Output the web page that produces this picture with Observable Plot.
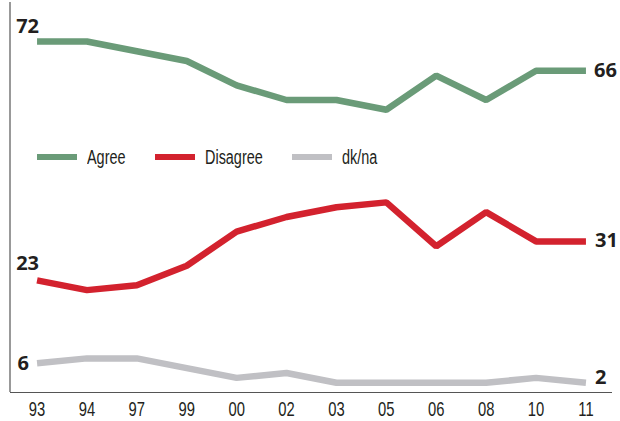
<!DOCTYPE html>
<html>
<head>
<meta charset="utf-8">
<script src="https://cdn.jsdelivr.net/npm/d3@7"></script>
<script src="https://cdn.jsdelivr.net/npm/@observablehq/plot@0.6"></script>
<style>
  html, body { margin: 0; padding: 0; background: #fff; }
  #wrap { position: relative; width: 620px; height: 421px; }
  #legend { position: absolute; left: 37px; top: 145px; height: 24px;
    font-family: 'Liberation Sans', Arial, sans-serif; font-size: 19.5px; color: #231f20; }
  #legend .item { position: absolute; top: 0; display: flex; align-items: center; height: 24px; white-space: nowrap; }
  #legend .item:nth-child(1) { left: 0px; }
  #legend .item:nth-child(2) { left: 118px; }
  #legend .item:nth-child(3) { left: 255px; }
  #legend .sw { width: 40px; height: 6px; margin-right: 10px; }
  #legend .lab { display: inline-block; transform: scaleX(0.74); transform-origin: left center; }
</style>
</head>
<body>
<div id="wrap"><div id="legend"></div></div>
<script>
const years = ["93","94","97","99","00","02","03","05","06","08","10","11"];
const agree = [72,72,70,68,63,60,60,58,65,60,66,66];
const disagree = [23,21,22,26,33,36,38,39,30,37,31,31];
const dkna = [6,7,7,5,3,4,2,2,2,2,3,2];
const seriesNames = ["Agree","Disagree","dk/na"];
const seriesColors = ["#6a9b78","#d3222e","#c0c0c4"];

const seriesValues = [agree, disagree, dkna];
const rows = seriesNames.flatMap((s, si) => years.map((yr, i) => ({series: s, year: yr, value: seriesValues[si][i], i})));
const first = s => rows.filter(d => d.series === s && d.i === 0);
const last = s => rows.filter(d => d.series === s && d.i === years.length - 1);

const numFont = "'Open Sans', sans-serif";
const ink = "#231f20";

const leftAxisLine = (index, scales, values, dimensions) => {
  const g = d3.create("svg:line")
    .attr("x1", dimensions.marginLeft).attr("x2", dimensions.marginLeft)
    .attr("y1", dimensions.marginTop).attr("y2", dimensions.height - dimensions.marginBottom)
    .attr("stroke", "#555").attr("stroke-width", 1.2);
  return g.node();
};

const numLabel = (data, anchor, dx, dy) => Plot.text(data, {
  x: "year", y: "value", text: d => String(d.value), textAnchor: anchor, dx, dy,
  fontSize: 20, fontWeight: 700, fontFamily: numFont, fill: ink
});

const chart = Plot.plot({
  width: 620,
  height: 421,
  marginLeft: 10,
  marginRight: 8,
  marginTop: 2,
  marginBottom: 29,
  style: {fontFamily: "'Liberation Sans', Arial, sans-serif", color: ink, background: "#fff"},
  x: {type: "point", domain: years, padding: 0.532, round: false, label: null},
  y: {domain: [0, 80], axis: null},
  color: {domain: seriesNames, range: seriesColors},
  marks: [
    Plot.axisX({tickSize: 0, tickPadding: 9, fontSize: 20, label: null}),
    Plot.ruleY([0], {stroke: "#555", strokeWidth: 1.2}),
    leftAxisLine,
    Plot.line(rows, {x: "year", y: "value", z: "series", stroke: "series", strokeWidth: 6.5, strokeLinecap: "butt", strokeLinejoin: "miter"}),
    numLabel(first("Agree"), "end", 2, -15),
    numLabel(first("Disagree"), "end", 2, -17),
    numLabel(first("dk/na"), "end", -8, 0),
    numLabel(last("Agree"), "start", 8, 0),
    numLabel(last("Disagree"), "start", 9, -1),
    numLabel(last("dk/na"), "start", 9, -5)
  ]
});

// condense the x tick labels (reference uses a condensed face)
chart.querySelectorAll('g[aria-label="x-axis tick label"] text').forEach(t => {
  const tr = t.getAttribute("transform");
  if (tr) {
    t.setAttribute("transform", tr + " scale(0.74,1)");
  } else {
    const x = t.getAttribute("x") || 0, y = t.getAttribute("y") || 0;
    t.removeAttribute("x"); t.removeAttribute("y");
    t.setAttribute("transform", `translate(${x},${y}) scale(0.74,1)`);
  }
});

const wrap = document.getElementById("wrap");
wrap.insertBefore(chart, wrap.firstChild);

const legend = document.getElementById("legend");
seriesNames.forEach((s, i) => {
  const item = document.createElement("div");
  item.className = "item";
  const sw = document.createElement("div");
  sw.className = "sw";
  sw.style.background = seriesColors[i];
  const lab = document.createElement("span");
  lab.className = "lab";
  lab.textContent = s;
  item.appendChild(sw);
  item.appendChild(lab);
  legend.appendChild(item);
});
</script>
</body>
</html>
